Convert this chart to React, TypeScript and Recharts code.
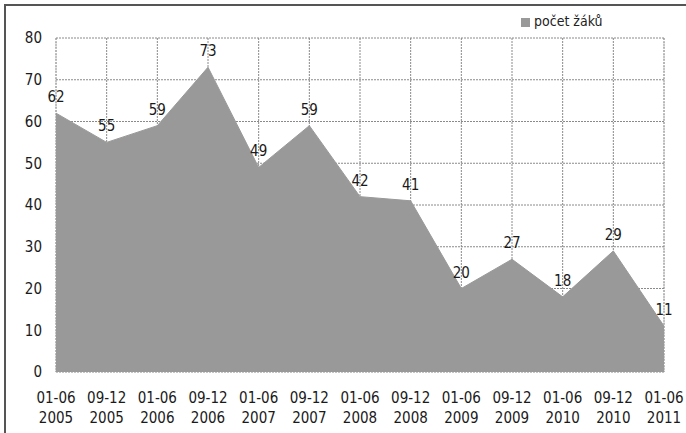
import React from "react";
import {
  AreaChart,
  Area,
  XAxis,
  YAxis,
  CartesianGrid,
  Legend,
  LabelList,
} from "recharts";

const periods = ["01-06", "09-12", "01-06", "09-12", "01-06", "09-12", "01-06", "09-12", "01-06", "09-12", "01-06", "09-12", "01-06"];
const years = ["2005", "2005", "2006", "2006", "2007", "2007", "2008", "2008", "2009", "2009", "2010", "2010", "2011"];
const pupils = [62, 55, 59, 73, 49, 59, 42, 41, 20, 27, 18, 29, 11];
const yTicks = [0, 10, 20, 30, 40, 50, 60, 70, 80];
const seriesName = "počet žáků";

const data = pupils.map((v, i) => ({ idx: i, value: v }));
const majorTicks = pupils.map((_, i) => i);
const minorTicks = pupils.slice(1).map((_, i) => i + 0.5);

const FONT = "'DejaVu Sans Condensed', 'Open Sans', sans-serif";
const FS = 15;

const XTick = (props: any) => {
  const { x, y, payload } = props;
  const i = payload.value;
  return (
    <g transform={`translate(${x},${y})`}>
      <text textAnchor="middle" fontFamily={FONT} fontSize={FS} fill="#1a1a1a">
        <tspan x={0} y={31}>{periods[i]}</tspan>
        <tspan x={0} y={51}>{years[i]}</tspan>
      </text>
    </g>
  );
};

export default function App() {
  return (
    <div style={{ position: "absolute", left: 0, top: 0, width: 686, height: 433, background: "#fff", overflow: "hidden" }}>
      <div
        style={{
          position: "absolute",
          left: 4,
          top: 4,
          width: 720,
          height: 460,
          borderLeft: "2px solid #555",
          borderTop: "2px solid #555",
        }}
      />
      <div style={{ position: "absolute", left: 0, top: 0 }}>
        <AreaChart
          width={686}
          height={433}
          data={data}
          margin={{ top: 38, right: 22, left: 0, bottom: 0 }}
        >
          <CartesianGrid
            xAxisId="minor"
            vertical={true}
            horizontal={false}
            stroke="#c8c8c8"
            strokeDasharray="2 2"
          />
          <CartesianGrid
            xAxisId="main"
            stroke="#8a8a8a"
            strokeDasharray="2 1"
          />
          <XAxis
            xAxisId="main"
            dataKey="idx"
            type="number"
            domain={[0, 12]}
            ticks={majorTicks}
            interval={0}
            axisLine={false}
            tickLine={false}
            tickSize={0}
            tickMargin={0}
            height={61}
            tick={<XTick />}
          />
          <XAxis
            xAxisId="minor"
            dataKey="idx"
            type="number"
            domain={[0, 12]}
            ticks={minorTicks}
            orientation="top"
            height={0}
            axisLine={false}
            tickLine={false}
            tick={false}
          />
          <YAxis
            domain={[0, 80]}
            ticks={yTicks}
            width={56}
            axisLine={false}
            tickLine={false}
            tickSize={0}
            tickMargin={14}
            tick={{ fontFamily: FONT, fontSize: FS, fill: "#1a1a1a" }}
          />
          <Legend
            verticalAlign="top"
            align="left"
            layout="horizontal"
            iconType="square"
            iconSize={9}
            wrapperStyle={{ position: "absolute", top: 13, left: 521, width: 120, height: 0, overflow: "visible", fontFamily: FONT, fontSize: 14 }}
            formatter={(v: any) => <span style={{ color: "#222" }}>{v}</span>}
          />
          <Area
            xAxisId="main"
            type="linear"
            dataKey="value"
            name={seriesName}
            fill="#999999"
            fillOpacity={1}
            stroke="#999999"
            strokeWidth={1}
            isAnimationActive={false}
            dot={false}
            activeDot={false}
          >
            <LabelList
              dataKey="value"
              position="top"
              offset={11}
              style={{ fontFamily: FONT, fontSize: FS, fill: "#1a1a1a" }}
            />
          </Area>
        </AreaChart>
      </div>
    </div>
  );
}
